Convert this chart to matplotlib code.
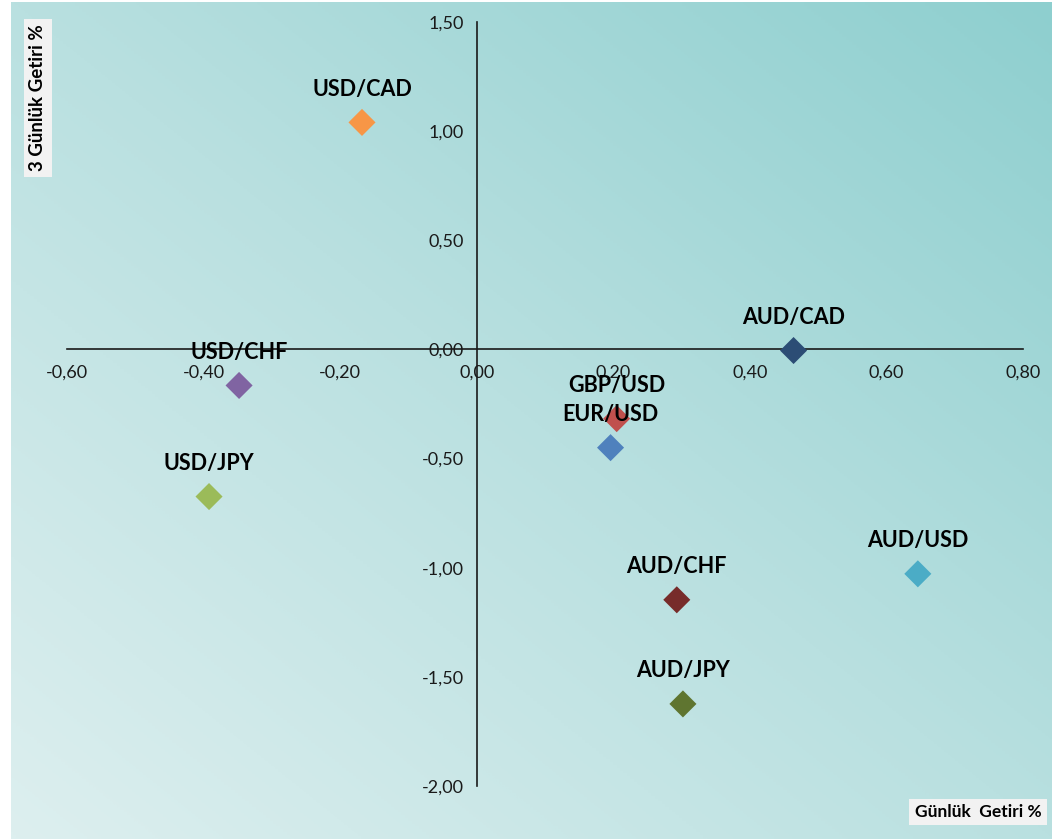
import numpy as np
import matplotlib.pyplot as plt
from matplotlib.colors import LinearSegmentedColormap

plt.rcParams['font.family'] = ['Lato', 'DejaVu Sans']

# data: daily return (%) vs 3-day return (%)
pairs = ['USD/CAD', 'AUD/CAD', 'USD/CHF', 'GBP/USD', 'EUR/USD',
         'USD/JPY', 'AUD/USD', 'AUD/CHF', 'AUD/JPY']
daily = [-0.168, 0.464, -0.348, 0.205, 0.196, -0.392, 0.646, 0.293, 0.302]
three_day = [1.04, -0.005, -0.165, -0.317, -0.45, -0.674, -1.028, -1.147, -1.624]
colors = ['#F79646', '#2C4D75', '#8064A2', '#C0504D', '#4F81BD',
          '#9BBB59', '#4BACC6', '#772C2A', '#5F7530']

x_ticks = [-0.6, -0.4, -0.2, 0.0, 0.2, 0.4, 0.6, 0.8]
y_ticks = [-2.0, -1.5, -1.0, -0.5, 0.0, 0.5, 1.0, 1.5]


def fmt(v):
    return f'{v:.2f}'.replace('.', ',')


W, H = 1052, 839
fig = plt.figure(figsize=(W / 100, H / 100), dpi=100)
fig.patch.set_facecolor('white')

# background gradient (light bottom-left -> teal top-right)
bg = fig.add_axes([11 / W, 0, 1 - 11 / W, 1 - 2 / H])
bg.set_axis_off()
u = np.linspace(0, 1, 300)
v = np.linspace(0, 1, 300)
U, V = np.meshgrid(u, v)
t = ((1 - U) + V) / 2
cmap = LinearSegmentedColormap.from_list('bg', ['#8ECFCF', '#B9E0E0', '#DDEFEF'])
bg.imshow(t, cmap=cmap, aspect='auto', extent=[0, 1, 1, 0], vmin=0, vmax=1)
bg.set_xlim(0, 1)
bg.set_ylim(1, 0)

ax = fig.add_axes([67 / W, 1 - 786 / H, 956 / W, 764 / H])
ax.patch.set_alpha(0)
ax.set_xlim(-0.6, 0.8)
ax.set_ylim(-2.0, 1.5)

for side in ['top', 'right']:
    ax.spines[side].set_visible(False)
ax.spines['left'].set_position(('data', 0))
ax.spines['bottom'].set_position(('data', 0))
for side in ['left', 'bottom']:
    ax.spines[side].set_linewidth(1.2)
    ax.spines[side].set_color('#1a1a1a')

ax.set_xticks(x_ticks)
ax.set_xticklabels([fmt(x) for x in x_ticks])
ax.set_yticks(y_ticks)
ax.set_yticklabels([fmt(y) for y in y_ticks])
ax.tick_params(axis='x', length=0, pad=11, labelsize=13, labelcolor='#1a1a1a')
ax.tick_params(axis='y', length=0, pad=9, labelsize=13, labelcolor='#1a1a1a')

ax.scatter(daily, three_day, s=190, marker='D', c=colors, linewidths=0, zorder=3)

for name, x, y in zip(pairs, daily, three_day):
    ax.annotate(name, (x, y), xytext=(0, 24), textcoords='offset points',
                ha='center', va='center', fontsize=15.5, fontweight='bold',
                color='black', zorder=4)

box = dict(boxstyle='square,pad=0.3', facecolor='#F2F2F2', edgecolor='none')
fig.text(38 / W, 1 - 98 / H, '3 Günlük Getiri %', rotation=90, ha='center', va='center',
         fontsize=13.5, fontweight='bold', bbox=box)
fig.text(978 / W, 1 - 812 / H, 'Günlük  Getiri %', ha='center', va='center',
         fontsize=12.5, fontweight='bold', bbox=box)

fig.savefig('out.png', dpi=100)
